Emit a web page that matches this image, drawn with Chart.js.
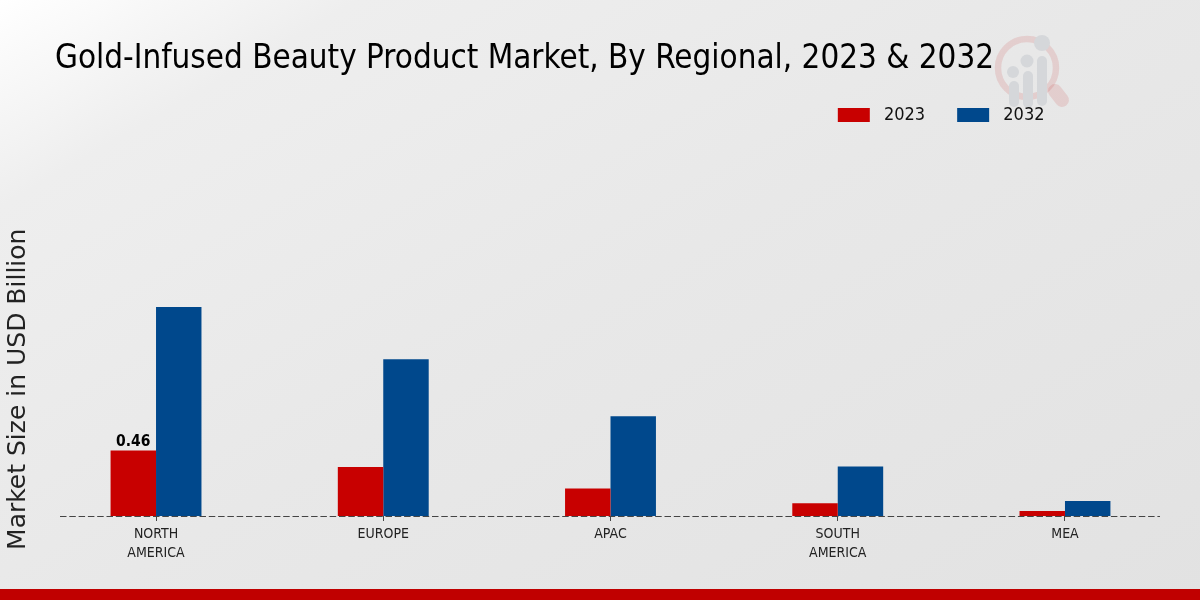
<!DOCTYPE html>
<html>
<head>
<meta charset="utf-8">
<title>Gold-Infused Beauty Product Market</title>
<script src="https://cdn.jsdelivr.net/npm/chart.js@4"></script>
<style>
	html, body { margin: 0; padding: 0; width: 1200px; height: 600px; overflow: hidden; }
	body { position: relative; background: linear-gradient(150deg, #ffffff 0%, #eeeeee 16%, #e8e8e8 50%, #e2e2e2 100%); }
	#chartWrap { position: absolute; left: 0; top: 0; width: 1200px; height: 600px; }
	#logo { position: absolute; left: 0; top: 0; }
	#footerBar { position: absolute; left: 0; top: 589px; width: 1200px; height: 11px; background: #c00000; }
</style>
</head>
<body>
<svg id="logo" width="1200" height="600">
	<circle cx="1027" cy="68" r="29" fill="none" stroke="#c00000" stroke-opacity="0.11" stroke-width="6.5"/>
	<line x1="1055" y1="91" x2="1062" y2="100" stroke="#c00000" stroke-opacity="0.11" stroke-width="14" stroke-linecap="round"/>
	<g fill="#d5d7da">
		<rect x="1009" y="81" width="10" height="26" rx="5"/>
		<rect x="1023" y="71" width="10" height="37" rx="5"/>
		<rect x="1037" y="56" width="10" height="50" rx="5"/>
		<circle cx="1013" cy="72" r="6"/>
		<circle cx="1027" cy="61" r="6.5"/>
		<circle cx="1042" cy="43" r="8"/>
	</g>
</svg>
<div id="chartWrap"><canvas id="chart" width="1200" height="600"></canvas></div>
<div id="footerBar"></div>
<script>
const categories = [['NORTH', 'AMERICA'], 'EUROPE', 'APAC', ['SOUTH', 'AMERICA'], 'MEA'];
const values2023 = [0.46, 0.344, 0.193, 0.09, 0.035];
const values2032 = [1.468, 1.10, 0.70, 0.348, 0.105];
const barLabels2023 = ['0.46', null, null, null, null];

const condensed = '"DejaVu Sans Condensed", "DejaVu Sans", sans-serif';

// Baseline, value label and fixed title/legend spots
const chartExtras = {
	id: 'chartExtras',
	afterLayout(chart) {
		chart.titleBlock.left = 55;
		chart.titleBlock.right = 1100;
		chart.titleBlock.top = 2;
		chart.legend.right = 1076.5;
		chart.legend.top = 74;
	},
	afterDatasetsDraw(chart) {
		const { ctx, scales } = chart;
		const y0 = scales.y.getPixelForValue(0) + 0.5;
		ctx.save();
		ctx.strokeStyle = '#444444';
		ctx.lineWidth = 1;
		ctx.setLineDash([6.5, 2.8]);
		ctx.beginPath();
		ctx.moveTo(60, y0);
		ctx.lineTo(1160, y0);
		ctx.stroke();
		ctx.setLineDash([]);

		ctx.fillStyle = '#000000';
		ctx.font = 'bold 15.5px ' + condensed;
		ctx.textAlign = 'center';
		ctx.textBaseline = 'alphabetic';
		chart.getDatasetMeta(0).data.forEach((bar, i) => {
			if (barLabels2023[i]) ctx.fillText(barLabels2023[i], bar.x, bar.y - 4);
		});
		ctx.restore();
	}
};

new Chart(document.getElementById('chart'), {
	type: 'bar',
	plugins: [chartExtras],
	data: {
		labels: categories,
		datasets: [
			{ label: ' 2023', data: values2023, backgroundColor: '#c80000', borderWidth: 0 },
			{ label: ' 2032', data: values2032, backgroundColor: '#00488c', borderWidth: 0 }
		]
	},
	options: {
		responsive: false,
		animation: false,
		layout: { padding: { left: 0, right: 21.4, top: 0, bottom: 0 } },
		datasets: { bar: { categoryPercentage: 0.4, barPercentage: 1 } },
		plugins: {
			title: {
				display: true,
				text: 'Gold-Infused Beauty Product Market, By Regional, 2023 & 2032',
				align: 'start',
				color: '#000000',
				font: { family: condensed, size: 32.9, weight: 'normal' },
				padding: { top: 38, bottom: 125 }
			},
			legend: {
				position: 'top',
				align: 'end',
				labels: {
					boxWidth: 32,
					boxHeight: 14,
					padding: 32,
					color: '#111111',
					font: { family: condensed, size: 18 }
				}
			},
			tooltip: { enabled: false }
		},
		scales: {
			x: {
				afterFit(scale) { scale.height = 84; },
				grid: { offset: false, drawOnChartArea: false, drawTicks: true, tickLength: 5, tickColor: '#444444' },
				border: { display: false },
				ticks: { color: '#222222', font: { family: condensed, size: 14, lineHeight: 1.36 }, maxRotation: 0, padding: 4 }
			},
			y: {
				min: 0,
				max: 1.78,
				afterFit(scale) { scale.width = 42.4; },
				grid: { display: false },
				border: { display: false },
				ticks: { display: false },
				title: {
					display: true,
					text: 'Market Size in USD Billion',
					color: '#222222',
					font: { family: '"DejaVu Sans", sans-serif', size: 25, weight: 'normal' },
					padding: { top: 3, bottom: 0 }
				}
			}
		}
	}
});
</script>
</body>
</html>
